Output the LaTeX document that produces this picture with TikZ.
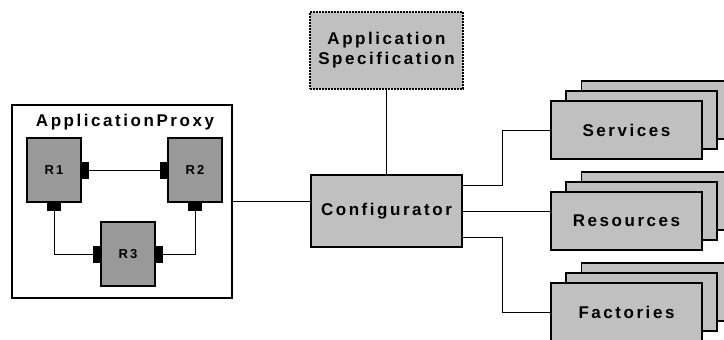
\documentclass[tikz,border=0pt]{standalone}
\usepackage{fontspec}
\usepackage{tikz}
\usetikzlibrary{positioning, calc}
\newfontfamily\diagfont{Liberation Sans}[LetterSpace=15]
\definecolor{boxgray}{HTML}{C0C0C0}
\definecolor{rolegray}{HTML}{999999}

\begin{document}
\begin{tikzpicture}[
    x=1pt, y=-1pt,
    every node/.style={inner sep=0pt, font=\diagfont\bfseries\fontsize{17}{20}\selectfont},
    bigbox/.style={draw, line width=1.6pt, fill=boxgray, minimum width=151pt, minimum height=58pt},
    rolebox/.style={draw, line width=1.2pt, fill=rolegray, minimum width=54pt, minimum height=64pt,
                    font=\diagfont\bfseries\fontsize{13}{15}\selectfont},
    vport/.style={fill=black, minimum width=7pt, minimum height=17pt},
    hport/.style={fill=black, minimum width=14pt, minimum height=8pt},
    wire/.style={line width=1pt}
]
\useasboundingbox (0,0) rectangle (724,340);

% application proxy with its three roles
\node[draw, line width=1.6pt, fill=white, minimum width=220pt, minimum height=193pt] (proxy) at (122,201.5) {};
\node (ptitle) at (125,122) {ApplicationProxy};
\node[rolebox] (r1) at (54,170) {R1};
\node[rolebox] (r2) at (195,170) {R2};
\node[rolebox] (r3) at (128,254) {R3};
\node[vport, anchor=west] (p12) at (r1.east) {};
\node[vport, anchor=east] (p21) at (r2.west) {};
\node[hport, anchor=north] (p1b) at (r1.south) {};
\node[hport, anchor=north] (p2b) at (r2.south) {};
\node[vport, anchor=east] (p3l) at (r3.west) {};
\node[vport, anchor=west] (p3r) at (r3.east) {};

\draw[wire] (p12) -- (p21);
\draw[wire] (p1b.south) |- (p3l.west);
\draw[wire] (p2b.south) |- (p3r.east);

% configurator and specification
\node[bigbox, minimum height=72pt] (conf) at (386.5,211) {Configurator};
\node[draw, line width=2pt, densely dotted, fill=boxgray, minimum width=153pt, minimum height=77pt,
      align=center] (spec) at (386.5,50.5) {Application\\Specification};

% stacked boxes on the right
\foreach \nm/\txt/\yy in {serv/Services/130, res/Resources/221, fact/Factories/312}{
  \node[bigbox] at (657,\yy-20) {};
  \node[bigbox] at (641.5,\yy-10) {};
  \node[bigbox] (\nm) at (626.5,\yy) {\txt};
}

\draw[wire] (proxy.east) -- (proxy.east -| conf.west);
\draw[wire] (spec) -- (conf);
\draw[wire] ([yshift=26pt]conf.east) -- ++(40,0) |- (serv.west);
\draw[wire] (conf.east) -- (conf.east -| res.west);
\draw[wire] ([yshift=-26pt]conf.east) -- ++(40,0) |- (fact.west);
\end{tikzpicture}
\end{document}
